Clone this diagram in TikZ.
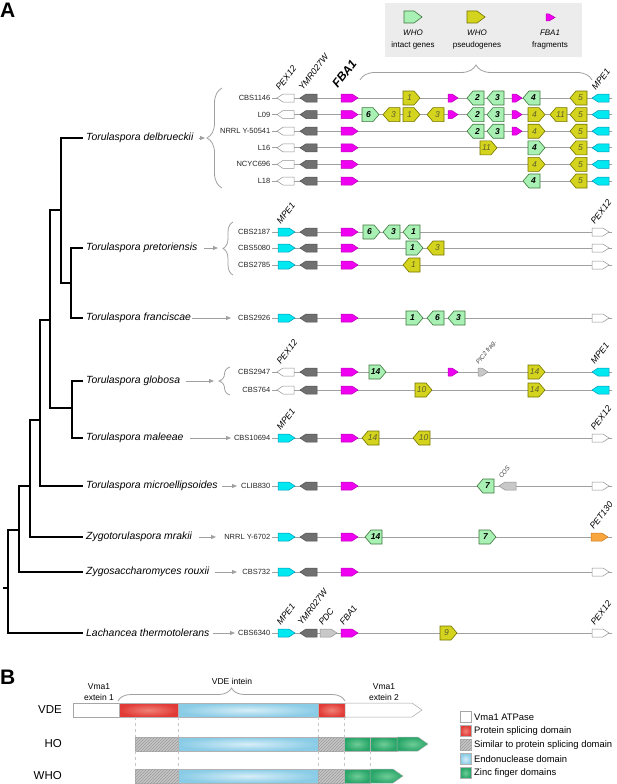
\documentclass[tikz,border=0pt]{standalone}
\usepackage{fontspec}
\setmainfont{Liberation Sans}
\usetikzlibrary{arrows.meta,decorations.pathreplacing,patterns}
\definecolor{cyG}{RGB}{0,232,240}
\definecolor{cyD}{RGB}{0,150,185}
\definecolor{dkG}{RGB}{112,112,112}
\definecolor{dkD}{RGB}{80,80,80}
\definecolor{mgG}{RGB}{240,0,240}
\definecolor{mgD}{RGB}{185,0,185}
\definecolor{lgG}{RGB}{200,200,200}
\definecolor{lgD}{RGB}{145,145,145}
\definecolor{orG}{RGB}{247,165,60}
\definecolor{orD}{RGB}{200,120,30}
\definecolor{grG}{RGB}{168,240,180}
\definecolor{grD}{RGB}{60,120,60}
\definecolor{yeG}{RGB}{212,212,30}
\definecolor{yeD}{RGB}{115,115,0}
\definecolor{yeT}{RGB}{95,95,45}
\definecolor{lnC}{RGB}{160,160,160}
\definecolor{redB}{RGB}{226,58,54}
\definecolor{redL}{RGB}{240,130,120}
\definecolor{bluB}{RGB}{138,204,230}
\definecolor{bluL}{RGB}{215,238,248}
\definecolor{grnB}{RGB}{40,165,105}
\definecolor{grnL}{RGB}{110,205,150}
\definecolor{legbg}{RGB}{236,236,236}
\newcounter{gn}
\tikzset{
  gcy/.style={fill=cyG,draw=cyD,line width=0.5},
  gdk/.style={fill=dkG,draw=dkD,line width=0.5},
  gmg/.style={fill=mgG,draw=mgD,line width=0.5},
  gwh/.style={fill=white,draw=lgD,line width=0.5},
  glg/.style={fill=lgG,draw=lgD,line width=0.5},
  gor/.style={fill=orG,draw=orD,line width=0.5},
  ggr/.style={fill=grG,draw=grD,line width=0.6},
  gye/.style={fill=yeG,draw=yeD,line width=0.6},
  ggrt/.style={font=\fontsize{8.5}{9}\selectfont\bfseries\itshape,text=black,inner sep=0},
  gyet/.style={font=\fontsize{8.5}{9}\selectfont\itshape,text=yeT,inner sep=0},
  sp/.style={font=\fontsize{10.4}{12}\selectfont\itshape,anchor=west,inner sep=0},
  st/.style={font=\fontsize{7.5}{9}\selectfont,anchor=east,inner sep=1.5pt,text=black!85},
  glab/.style={font=\fontsize{8.8}{9}\selectfont\itshape,anchor=south west,rotate=52,inner sep=0},
  gsmall/.style={font=\fontsize{6.3}{7}\selectfont\itshape,anchor=south west,rotate=52,inner sep=0,text=black!75},
  bb/.style={draw=lnC,line width=0.8},
  tree/.style={draw=black,line width=1.3},
  arr/.style={draw=lnC,line width=0.8,-{Triangle[length=5pt,width=4pt]}},
  brc/.style={draw=lnC,line width=0.8,decorate},
  lgt/.style={font=\fontsize{8}{9}\selectfont,inner sep=0},
  bt/.style={font=\fontsize{8.5}{11}\selectfont,inner sep=0,align=center},
  bl/.style={font=\fontsize{11.5}{12}\selectfont,anchor=east,inner sep=0},
  lt/.style={font=\fontsize{9.4}{10}\selectfont,anchor=west,inner sep=0},
  whbar/.style={fill=white,draw=gray!70,line width=0.5},
  redbar/.style={inner color=redL,outer color=redB,draw=gray!60,line width=0.5},
  blubar/.style={inner color=bluL,outer color=bluB,draw=gray!60,line width=0.5},
  grnbar/.style={inner color=grnL,outer color=grnB,draw=gray!60,line width=0.5},
  hatch/.style={fill=gray!45,postaction={pattern=north east lines,pattern color=gray!80},draw=gray!60,line width=0.5},
  dsh/.style={draw=gray!45,dashed,line width=0.5},
}
\newcommand\gsR[3]{\draw[#3] (#1,#2-4) -- ++(11,0) -- ++(6,4) -- ++(-6,4) -- ++(-11,0) -- cycle;}
\newcommand\gsL[3]{\draw[#3] (#1,#2) -- ++(6,-4) -- ++(11,0) -- ++(0,8) -- ++(-11,0) -- cycle;}
\newcommand\gfr[2]{\draw[gmg] (#1,#2-4) -- ++(4,0) -- ++(6,4) -- ++(-6,4) -- ++(-4,0) -- cycle;}
\newcommand\gbR[4]{\draw[#3] (#1,#2-7) -- ++(11,0) -- ++(6,7) -- ++(-6,7) -- ++(-11,0) -- cycle;
  \stepcounter{gn}\node[#3t] (gl\arabic{gn}) at (#1+6.5,#2) {#4};}
\newcommand\gbL[4]{\draw[#3] (#1,#2) -- ++(6,-7) -- ++(11,0) -- ++(0,14) -- ++(-11,0) -- cycle;
  \stepcounter{gn}\node[#3t] (gl\arabic{gn}) at (#1+10.5,#2) {#4};}
\newcommand\srow[3]{\node[st] (#1) at (272,#2) {#3}; \draw[bb] (#1.east) -- (612,#2);}
\newcommand\comA[1]{\gsL{277}{#1}{gwh}\gsL{300}{#1}{gdk}\gsR{341}{#1}{gmg}\gsL{592}{#1}{gcy}}
\newcommand\comB[1]{\gsR{278}{#1}{gcy}\gsL{300}{#1}{gdk}\gsR{341}{#1}{gmg}\gsR{592}{#1}{gwh}}
\begin{document}
\begin{tikzpicture}[x=1pt,y=-1pt]
\useasboundingbox (0,0) rectangle (617,784);
% panel letters
\node[anchor=north west,inner sep=0,font=\fontsize{21}{21}\selectfont\bfseries] (pA) at (0,3) {A};
\node[anchor=north west,inner sep=0,font=\fontsize{21}{21}\selectfont\bfseries] (pB) at (0,670) {B};
% legend top
\fill[legbg] (385,3) rectangle (582,57);
\draw[ggr] (404,11) -- (414,11) -- (422,17) -- (414,23) -- (404,23) -- cycle;
\draw[gye] (467,11) -- (477,11) -- (485,17) -- (477,23) -- (467,23) -- cycle;
\draw[gmg] (546,14) -- (549,14) -- (555,17.5) -- (549,21) -- (546,21) -- cycle;
\node[lgt] (lt1) at (413,33) {\itshape WHO};
\node[lgt] (lt2) at (413,45) {intact genes};
\node[lgt] (lt3) at (477,33) {\itshape WHO};
\node[lgt] (lt4) at (477,45) {pseudogenes};
\node[lgt] (lt5) at (550,33) {\itshape FBA1};
\node[lgt] (lt6) at (550,45) {fragments};
\draw[brc,decoration={brace,amplitude=15pt}] (360,80) -- (592,80);
% tree
\node[sp] (s1) at (86,138) {Torulaspora delbrueckii};
\node[sp] (s2) at (86,248) {Torulaspora pretoriensis};
\node[sp] (s3) at (86,318) {Torulaspora franciscae};
\node[sp] (s4) at (86,381) {Torulaspora globosa};
\node[sp] (s5) at (86,438) {Torulaspora maleeae};
\node[sp] (s6) at (86,486) {Torulaspora microellipsoides};
\node[sp] (s7) at (86,537) {Zygotorulaspora mrakii};
\node[sp] (s8) at (86,572) {Zygosaccharomyces rouxii};
\node[sp] (s9) at (86,633) {Lachancea thermotolerans};
\draw[tree] (s1.west) ++(-3,0) -| (61,283) -- (71,283);
\draw[tree] (s2.west) ++(-3,0) -| (71,318) -- (83,318);
\draw[tree] (61,210) -- (50,210) |- (72,408);
\draw[tree] (s4.west) ++(-3,0) -| (72,438) -- (83,438);
\draw[tree] (50,320) -- (40,320) |- (83,486);
\draw[tree] (40,420) -- (30,420) |- (83,537);
\draw[tree] (30,486) -- (19,486) |- (83,572);
\draw[tree] (19,530) -- (8,530) |- (83,633);
\draw[tree] (3,588) -- (8,588);
% species arrows and braces
\draw[arr] (199,138) -- (205,138);
\draw[brc,decoration={brace,amplitude=15pt}] (222,188) -- (222,88);
\draw[arr] (204,248) -- (218,248);
\draw[brc,decoration={brace,amplitude=10pt}] (233,275) -- (233,222);
\draw[arr] (192,318) -- (231,318);
\draw[arr] (186,381) -- (214,381);
\draw[brc,decoration={brace,amplitude=11pt}] (230,395) -- (230,367);
\draw[arr] (190,438) -- (231,438);
\draw[arr] (222,486) -- (237,486);
\draw[arr] (199,537) -- (216,537);
\draw[arr] (215,572) -- (237,572);
\draw[arr] (213,633) -- (235,633);
% ---- T. delbrueckii
\node[glab] (l1) at (280,91) {PEX12};
\node[glab] (l2) at (303,91) {YMR027W};
\node[glab,font=\fontsize{12}{13}\selectfont\bfseries\itshape] (l3) at (338,89) {FBA1};
\node[glab] (l4) at (596,91) {MPE1};
\srow{r11}{98}{CBS1146}
\comA{98}
\gbR{403}{98}{gye}{1}\gfr{448}{98}\gbL{467}{98}{ggr}{2}\gbL{487}{98}{ggr}{3}\gfr{512}{98}\gbL{523}{98}{ggr}{4}\gbL{570}{98}{gye}{5}
\srow{r12}{114.6}{L09}
\comA{114.6}
\gbR{362}{114.6}{ggr}{6}\gbL{383}{114.6}{gye}{3}\gbR{403}{114.6}{gye}{1}\gbL{427}{114.6}{gye}{3}\gfr{448}{114.6}
\gbL{467}{114.6}{ggr}{2}\gbL{487}{114.6}{ggr}{3}\gfr{512}{114.6}\gbR{528}{114.6}{gye}{4}\gbL{550}{114.6}{gye}{11}\gbL{570}{114.6}{gye}{5}
\srow{r13}{131.2}{NRRL Y-50541}
\comA{131.2}
\gbL{467}{131.2}{ggr}{2}\gbL{487}{131.2}{ggr}{3}\gfr{512}{131.2}\gbR{528}{131.2}{gye}{4}\gbL{570}{131.2}{gye}{5}
\srow{r14}{147.8}{L16}
\comA{147.8}
\gbR{480}{147.8}{gye}{11}\gbR{528}{147.8}{ggr}{4}\gbL{570}{147.8}{gye}{5}
\srow{r15}{164.4}{NCYC696}
\comA{164.4}
\gbR{528}{164.4}{gye}{4}\gbL{570}{164.4}{gye}{5}
\srow{r16}{181}{L18}
\comA{181}
\gbL{523}{181}{ggr}{4}\gbL{570}{181}{gye}{5}
% ---- T. pretoriensis
\node[glab] (l5) at (281,225) {MPE1};
\node[glab] (l6) at (595,225) {PEX12};
\srow{r21}{232}{CBS2187}
\comB{232}
\gbR{363}{232}{ggr}{6}\gbL{383}{232}{ggr}{3}\gbL{403}{232}{ggr}{1}
\srow{r22}{248}{CBS5080}
\comB{248}
\gbR{406}{248}{ggr}{1}\gbL{427}{248}{gye}{3}
\srow{r23}{265}{CBS2785}
\comB{265}
\gbL{403}{265}{gye}{1}
% ---- T. franciscae
\srow{r31}{318}{CBS2926}
\comB{318}
\gbR{406}{318}{ggr}{1}\gbL{427}{318}{ggr}{6}\gbL{448}{318}{ggr}{3}
% ---- T. globosa
\node[glab] (l7) at (281,365) {PEX12};
\node[gsmall] (l8) at (480,366) {PIC2 frag.};
\node[glab] (l9) at (595,365) {MPE1};
\srow{r41}{372}{CBS2947}
\comA{372}
\gbR{369}{372}{ggr}{14}\gfr{448}{372}\draw[glg] (478,368) -- (482,368) -- (488,372) -- (482,376) -- (478,376) -- cycle;
\gbR{528}{372}{gye}{14}
\srow{r42}{390}{CBS764}
\comA{390}
\gbR{415}{390}{gye}{10}\gbR{528}{390}{gye}{14}
% ---- T. maleeae
\node[glab] (l10) at (281,431) {MPE1};
\node[glab] (l11) at (595,431) {PEX12};
\srow{r51}{438}{CBS10694}
\comB{438}
\gbL{362}{438}{gye}{14}\gbL{413}{438}{gye}{10}
% ---- T. microellipsoides
\node[gsmall] (l12) at (502,479) {COS};
\srow{r61}{486}{CLIB830}
\comB{486}
\gbL{477}{486}{ggr}{7}\gsL{499}{486}{glg}
% ---- Z. mrakii
\node[glab] (l13) at (594,530) {PET130};
\srow{r71}{537}{NRRL Y-6702}
\gsR{278}{537}{gcy}\gsL{300}{537}{gdk}\gsR{341}{537}{gmg}\gsR{591}{537}{gor}
\gbL{365}{537}{ggr}{14}\gbR{479}{537}{ggr}{7}
% ---- Z. rouxii
\srow{r81}{572}{CBS732}
\comB{572}
% ---- L. thermotolerans
\node[glab] (l14) at (281,626) {MPE1};
\node[glab] (l15) at (302,626) {YMR027W};
\node[glab] (l16) at (323,626) {PDC};
\node[glab] (l17) at (344,626) {FBA1};
\node[glab] (l18) at (595,626) {PEX12};
\srow{r91}{633}{CBS6340}
\comB{633}
\gsR{320}{633}{glg}
\gbR{440}{633}{gye}{9}
% ================= panel B
\node[bt] (b1) at (99,692) {Vma1\\extein 1};
\node[bt] (b2) at (232,681) {VDE intein};
\node[bt] (b3) at (384,692) {Vma1\\extein 2};
\draw[brc,decoration={brace,amplitude=13pt}] (118,701) -- (345,701);
\node[bl] (v1) at (62,710) {VDE};
\node[bl] (v2) at (62,744) {HO};
\node[bl] (v3) at (62,776) {WHO};
% VDE
\draw[whbar] (73,703) rectangle (119,717);
\draw[redbar] (119,703) rectangle (178,717);
\draw[blubar] (178,703) rectangle (318,717);
\draw[redbar] (318,703) rectangle (345,717);
\draw[whbar] (345,703) -- (412,703) -- (422,710) -- (412,717) -- (345,717) -- cycle;
% HO
\draw[hatch] (135,737) rectangle (178,751);
\draw[blubar] (178,737) rectangle (318,751);
\draw[hatch] (318,737) rectangle (344,751);
\draw[grnbar] (344,737) rectangle (370,751);
\draw[grnbar] (370,737) rectangle (397,751);
\draw[grnbar] (397,737) -- (418,737) -- (428,744) -- (418,751) -- (397,751) -- cycle;
% WHO
\draw[hatch] (135,769) rectangle (178,783);
\draw[blubar] (178,769) rectangle (318,783);
\draw[hatch] (318,769) rectangle (344,783);
\draw[grnbar] (344,769) rectangle (370,783);
\draw[grnbar] (370,769) -- (393,769) -- (403,776) -- (393,783) -- (370,783) -- cycle;
% dashed guides
\foreach \xx in {135,178,318,344}{
  \draw[dsh] (\xx,717) -- (\xx,737);
  \draw[dsh] (\xx,751) -- (\xx,769);
}
\draw[dsh] (370,751) -- (370,769);
% legend B
\draw[whbar] (460,711.5) rectangle (471,722.5);
\draw[redbar] (460,725.5) rectangle (471,736.5);
\draw[hatch] (460,739.5) rectangle (471,750.5);
\draw[blubar] (460,753.5) rectangle (471,764.5);
\draw[grnbar] (460,767.5) rectangle (471,778.5);
\node[lt] (k1) at (474,717) {Vma1 ATPase};
\node[lt] (k2) at (474,731) {Protein splicing domain};
\node[lt] (k3) at (474,745) {Similar to protein splicing domain};
\node[lt] (k4) at (474,759) {Endonuclease domain};
\node[lt] (k5) at (474,773) {Zinc finger domains};
\end{tikzpicture}
\end{document}
